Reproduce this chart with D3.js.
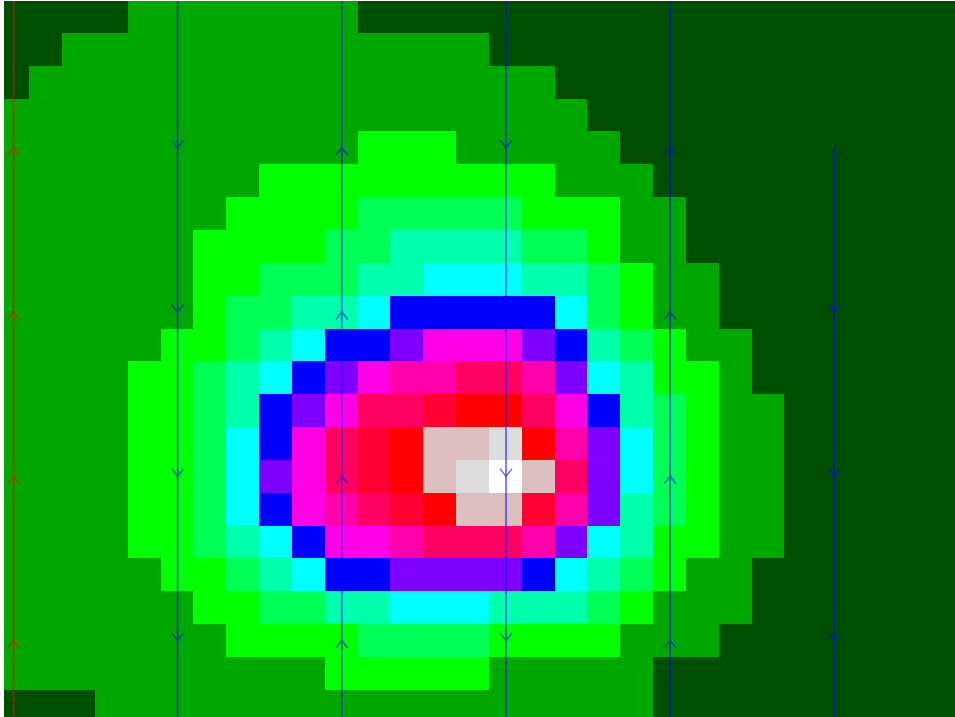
<!DOCTYPE html>
<html>
<head>
<meta charset="utf-8">
<script src="https://cdn.jsdelivr.net/npm/d3@7"></script>
<style>
html, body { margin: 0; padding: 0; background: #fff; overflow: hidden; }
svg { display: block; }
</style>
</head>
<body>
<div id="chart"></div>
<script>
// contour level of every cell, one row per line
const levels = [
	[0,0,0,0,1,1,1,1,1,1,1,0,0,0,0,0,0,0,0,0,0,0,0,0,0,0,0,0,0,0],
	[0,0,1,1,1,1,1,1,1,1,1,1,1,1,1,0,0,0,0,0,0,0,0,0,0,0,0,0,0,0],
	[0,1,1,1,1,1,1,1,1,1,1,1,1,1,1,1,1,0,0,0,0,0,0,0,0,0,0,0,0,0],
	[1,1,1,1,1,1,1,1,1,1,1,1,1,1,1,1,1,1,0,0,0,0,0,0,0,0,0,0,0,0],
	[1,1,1,1,1,1,1,1,1,1,1,2,2,2,1,1,1,1,1,0,0,0,0,0,0,0,0,0,0,0],
	[1,1,1,1,1,1,1,1,2,2,2,2,2,2,2,2,2,1,1,1,0,0,0,0,0,0,0,0,0,0],
	[1,1,1,1,1,1,1,2,2,2,2,3,3,3,3,3,2,2,2,1,1,0,0,0,0,0,0,0,0,0],
	[1,1,1,1,1,1,2,2,2,2,3,3,4,4,4,4,3,3,2,1,1,0,0,0,0,0,0,0,0,0],
	[1,1,1,1,1,1,2,2,3,3,3,4,4,5,5,5,4,4,3,2,1,1,0,0,0,0,0,0,0,0],
	[1,1,1,1,1,1,2,3,3,4,4,5,6,6,6,6,6,5,3,2,1,1,0,0,0,0,0,0,0,0],
	[1,1,1,1,1,2,2,3,4,5,6,6,7,8,8,8,7,6,4,3,2,1,1,0,0,0,0,0,0,0],
	[1,1,1,1,2,2,3,4,5,6,7,8,9,9,10,10,9,7,5,4,2,2,1,0,0,0,0,0,0,0],
	[1,1,1,1,2,2,3,4,6,7,8,10,10,11,12,12,10,8,6,4,3,2,1,1,0,0,0,0,0,0],
	[1,1,1,1,2,2,3,5,6,8,10,11,12,13,13,14,12,9,7,5,3,2,1,1,0,0,0,0,0,0],
	[1,1,1,1,2,2,3,5,7,8,10,11,12,13,14,15,13,10,7,5,3,2,1,1,0,0,0,0,0,0],
	[1,1,1,1,2,2,3,5,6,8,9,10,11,12,13,13,11,9,7,4,3,2,1,1,0,0,0,0,0,0],
	[1,1,1,1,2,2,3,4,5,6,8,8,9,10,10,10,9,7,5,4,2,2,1,1,0,0,0,0,0,0],
	[1,1,1,1,1,2,2,3,4,5,6,6,7,7,7,7,6,5,4,3,2,1,1,0,0,0,0,0,0,0],
	[1,1,1,1,1,1,2,2,3,3,4,4,5,5,5,4,4,4,3,2,1,1,1,0,0,0,0,0,0,0],
	[1,1,1,1,1,1,1,2,2,2,2,3,3,3,3,2,2,2,2,1,1,1,0,0,0,0,0,0,0,0],
	[1,1,1,1,1,1,1,1,1,1,2,2,2,2,2,1,1,1,1,1,0,0,0,0,0,0,0,0,0,0],
	[0,0,0,1,1,1,1,1,1,1,1,1,1,1,1,1,1,1,1,1,0,0,0,0,0,0,0,0,0,0]
];
const levelValues = [0,1,2,3,4,5,6,7,8,9,10,11,12,13,14,15];
const levelColors = ["#005000","#00a800","#00ff00","#00ff55","#00ffaa","#00ffff","#0000ff","#8000ff",
	"#ff00e6","#ff00aa","#ff0064","#ff0032","#ff0000","#dcbebe","#dcdcdc","#ffffff"];

// quiver columns, all in grid units
const vectorCols = [0.52, 5.52, 10.52, 15.52, 20.52, 25.52];
const vectorDirs = [-1, 1, -1, 1, -1, 1];
const vectorFirstRow = [-0.5, -0.5, -0.5, -0.5, -0.5, 4.5];
const vectorLastRow = [19.5, 19.5, 19.5, 19.5, 19.5, 19.5];
const vectorColors = ["#ff0000", "#0000ff", "#0000ff", "#0000ff", "#0000ff", "#0000ff"];

const width = 955, height = 717;
const nRows = levels.length, nCols = levels[0].length;

const x = d3.scaleLinear().domain([0, nCols]).range([-3.53, -3.53 + 32.83 * nCols]);
const y = d3.scaleLinear().domain([0, nRows]).range([0, 32.85 * nRows]);
const color = d3.scaleOrdinal().domain(levelValues).range(levelColors);

const svg = d3.select("#chart").append("svg")
	.attr("width", width)
	.attr("height", height);

svg.append("clipPath").attr("id", "plot")
	.append("rect")
	.attr("x", 4)
	.attr("y", 1)
	.attr("width", width - 4)
	.attr("height", height - 1);

// the picture is slightly soft, like an upscaled raster
svg.append("filter").attr("id", "soft")
	.attr("filterUnits", "userSpaceOnUse")
	.attr("x", -10).attr("y", -10)
	.attr("width", width + 20).attr("height", height + 20)
	.append("feGaussianBlur")
	.attr("stdDeviation", 0.45);

const g = svg.append("g")
	.attr("clip-path", "url(#plot)")
	.append("g")
	.attr("filter", "url(#soft)");

// cells
levels.forEach(function(row, r){
	g.append("g").selectAll("rect")
		.data(row)
		.join("rect")
		.attr("x", (d, c) => Math.round(x(c)))
		.attr("y", Math.round(y(r)))
		.attr("width", (d, c) => Math.round(x(c + 1)) - Math.round(x(c)))
		.attr("height", Math.round(y(r + 1)) - Math.round(y(r)))
		.attr("shape-rendering", "crispEdges")
		.attr("fill", d => color(d));
});

// vectors: one arrow per segment, 5 rows long, head at the far end
vectorCols.forEach(function(col, i){
	const dir = vectorDirs[i];
	const starts = d3.range(vectorFirstRow[i], vectorLastRow[i] + 1, 5);
	const arrows = g.append("g")
		.attr("fill", "none")
		.attr("stroke", vectorColors[i])
		.attr("stroke-opacity", 0.55);

	starts.forEach(function(start){
		// upward columns run from the lower node to the upper one
		const from = dir > 0 ? start : start + 5;
		const to = dir > 0 ? start + 5 : start;
		const px = x(col), tip = y(to);
		arrows.append("line")
			.attr("x1", px).attr("x2", px)
			.attr("y1", y(from)).attr("y2", tip)
			.attr("stroke-width", 1.8);
		arrows.append("path")
			.attr("d", d3.line()([[px - 6, tip - dir * 7.5], [px, tip], [px + 6, tip - dir * 7.5]]))
			.attr("stroke-width", 1.5);
	});
});
</script>
</body>
</html>
